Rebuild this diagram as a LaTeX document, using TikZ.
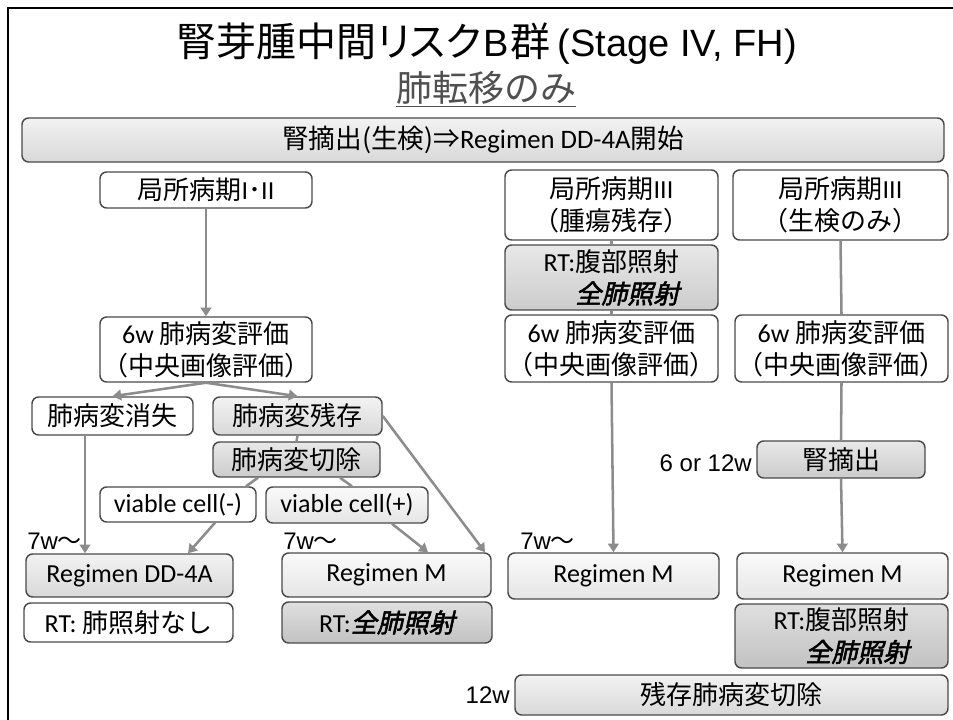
\documentclass[tikz,border=0pt]{standalone}
\usepackage{fontspec}
\setmainfont{Noto Sans CJK JP}
\newfontfamily\cjk{Noto Sans CJK JP}
\newfontfamily\cjkp[RawFeature=+palt]{Noto Sans CJK JP}
\newfontfamily\cjkbi[FakeSlant=0.22,FakeBold=2]{Noto Sans CJK JP}
\newfontfamily\lat{Carlito}
\newfontfamily\ari{Liberation Sans}
\usetikzlibrary{arrows.meta,calc}
\definecolor{bord}{HTML}{4A4A4A}
\definecolor{conn}{HTML}{8C8C8C}
\definecolor{subc}{HTML}{505050}
\newcommand\bt{\fontsize{19.5}{24}\selectfont}
\tikzset{
  box/.style={draw=bord, line width=1.1pt, rounded corners=5pt, align=center, inner sep=0pt, font=\bt},
  wb/.style={fill=white},
  g1/.style={top color=gray!4, bottom color=gray!20},
  g2/.style={top color=gray!10, bottom color=gray!30},
  g3/.style={top color=gray!18, bottom color=gray!40},
  g4/.style={top color=gray!25, bottom color=gray!48},
  cl/.style={draw=conn, line width=1.9pt},
  ar/.style={draw=conn, line width=1.9pt, -{Triangle[width=8pt,length=6.5pt]}},
  lbl/.style={inner sep=0pt, font=\ari\fontsize{18}{20}\selectfont}
}
\begin{document}
\begin{tikzpicture}[x=0.75pt,y=-0.75pt]
\useasboundingbox (0,0) rectangle (953,720);
\draw[line width=2pt, black] (8,720) -- (8,8) -- (953,8);
% title
\node[inner sep=0pt, font=\cjkp\fontsize{30}{32}\selectfont] (title) at (487,44) {腎芽腫中間リスク\kern1.5pt{\ari\fontsize{28.5}{32}\selectfont B}\kern1.5pt群\,{\ari\fontsize{28.5}{32}\selectfont (Stage IV, FH)}};
\node[inner sep=0pt, font=\fontsize{27}{30}\selectfont, text=subc] (sub) at (486,89) {\underline{肺転移のみ}};
% top bar
\node[box, g2, minimum width=922*0.75pt, minimum height=44*0.75pt, font=\cjkp\fontsize{20}{24}\selectfont] (bar) at (483,140) {腎摘出(生検)⇒{\lat Regimen DD-4A}開始};
% left column
\node[box, wb, minimum width=212*0.75pt, minimum height=36*0.75pt] (L1) at (206,190) {局所病期{\lat I}･{\lat II}};
\node[box, wb, minimum width=212*0.75pt, minimum height=65*0.75pt] (L2) at (206,349.5) {{\lat 6w} 肺病変評価\\（中央画像評価）};
\node[box, wb, minimum width=161*0.75pt, minimum height=38*0.75pt] (L3a) at (112.5,416) {肺病変消失};
\node[box, g2, minimum width=169*0.75pt, minimum height=38*0.75pt] (L3b) at (297.5,416) {肺病変残存};
\node[box, g3, minimum width=167*0.75pt, minimum height=35*0.75pt] (L4) at (296.5,459.5) {肺病変切除};
\node[box, wb, minimum width=156*0.75pt, minimum height=35*0.75pt, font=\lat\bt] (L5a) at (178,504.5) {viable cell(-)};
\node[box, g1, minimum width=162*0.75pt, minimum height=36*0.75pt, font=\lat\bt] (L5b) at (347,505) {viable cell(+)};
\node[box, g2, minimum width=207*0.75pt, minimum height=43*0.75pt, font=\lat\bt] (L6a) at (129.5,575.5) {Regimen DD-4A};
\node[box, wb, minimum width=209*0.75pt, minimum height=39*0.75pt] (L7a) at (128.5,622.5) {{\lat RT:} 肺照射なし};
\node[box, g1, minimum width=209*0.75pt, minimum height=44*0.75pt, font=\lat\bt] (L6b) at (386.5,575) {Regimen M};
\node[box, g4, minimum width=210*0.75pt, minimum height=41*0.75pt] (L7b) at (387,622.5) {{\lat RT:}{\cjkbi 全肺照射}};
% middle column
\node[box, wb, minimum width=213*0.75pt, minimum height=70*0.75pt] (M1) at (611.5,205) {局所病期{\lat III}\\（腫瘍残存）};
\node[box, g3, minimum width=213*0.75pt, minimum height=65*0.75pt, align=right] (M2) at (611.5,277.5) {{\lat RT:}腹部照射\\{\cjkbi 全肺照射}};
\node[box, wb, minimum width=213*0.75pt, minimum height=67*0.75pt] (M3) at (611.5,348.5) {{\lat 6w} 肺病変評価\\（中央画像評価）};
\node[box, g1, minimum width=211*0.75pt, minimum height=46*0.75pt, font=\lat\bt] (M4) at (613.5,576) {Regimen M};
% right column
\node[box, wb, minimum width=215*0.75pt, minimum height=70*0.75pt] (R1) at (840.5,205) {局所病期{\lat III}\\（生検のみ）};
\node[box, wb, minimum width=213*0.75pt, minimum height=67*0.75pt] (R2) at (841.5,348.5) {{\lat 6w} 肺病変評価\\（中央画像評価）};
\node[box, g3, minimum width=168*0.75pt, minimum height=37*0.75pt] (R3) at (841,459.5) {腎摘出};
\node[box, g1, minimum width=211*0.75pt, minimum height=46*0.75pt, font=\lat\bt] (R4) at (842.5,576) {Regimen M};
\node[box, g4, minimum width=213*0.75pt, minimum height=64*0.75pt, align=right] (R5) at (841.5,636) {{\lat RT:}腹部照射\\{\cjkbi 全肺照射}};
\node[box, g2, minimum width=433*0.75pt, minimum height=40*0.75pt] (B) at (731.5,695) {残存肺病変切除};
% labels
\node[lbl, anchor=west] (w7a) at (27,541) {7w{\cjk 〜}};
\node[lbl, anchor=west] (w7b) at (283,541) {7w{\cjk 〜}};
\node[lbl, anchor=west] (w7c) at (520,541) {7w{\cjk 〜}};
\node[lbl, anchor=east] (w612) at (752,463) {6 or 12w};
\node[lbl, anchor=east] (w12) at (510,695) {12w};
% connectors
\draw[ar] (L1.south) -- (L2.north);
\draw[ar] (L2.south) -- (L3a.north);
\draw[ar] (L2.south) -- (L3b.north);
\draw[cl] (L3b.south) -- (L4.north);
\draw[cl] (L4.south -| 258,0) -- (L5a.north -| 246,0);
\draw[cl] (L4.south -| 340,0) -- (L5b.north -| 352,0);
\draw[ar] (L3a.south -| 85,0) -- (L6a.north -| 85,0);
\draw[ar] (L5a.south -| 215,0) -- (L6a.north -| 188,0);
\draw[ar] (L5b.south -| 392,0) -- (L6b.north -| 428,0);
\draw[ar] (L3b.east) -- (L6b.north -| 485,0);
\draw[cl] (M1.south) -- (M2.north);
\draw[cl] (M2.south) -- (M3.north);
\draw[ar] (M3.south) -- (M4.north);
\draw[cl] (R1.south) -- (R2.north);
\draw[cl] (R2.south) -- (R3.north);
\draw[ar] (R3.south) -- (R4.north);
\end{tikzpicture}
\end{document}
